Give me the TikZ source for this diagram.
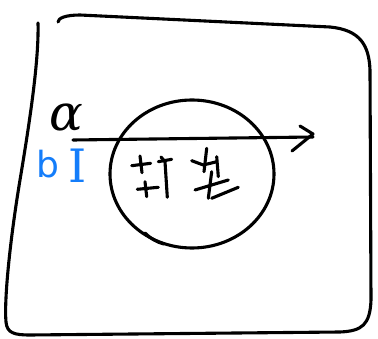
\documentclass[tikz,border=0pt]{standalone}
\usepackage{fontspec}
\setmainfont{DejaVu Sans}
\newfontfamily\serifink{DejaVu Serif}
\definecolor{inkblue}{RGB}{20,125,250}
\tikzset{
    stroke/.style={line width=3.1pt, line cap=round, line join=round},
    inklabel/.style={inner sep=0pt, anchor=center}
}
\begin{document}
\begin{tikzpicture}[x=1pt, y=-1pt]
    \useasboundingbox (0,0) rectangle (378,339);
    % frame
    \draw[stroke] (38,23) .. controls (39,60) and (30,120) .. (20,180)
        .. controls (10,240) and (4,300) .. (6,322)
        .. controls (7,333) and (14,335) .. (30,335)
        -- (340,332) .. controls (362,331) and (370,325) .. (371,300)
        -- (370,70) .. controls (369,45) and (360,30) .. (330,27)
        -- (80,15) .. controls (66,15) and (58,18) .. (58,22);
    % circle
    \draw[stroke] (192,174) ellipse [x radius=82, y radius=74];
    \draw[stroke] (145,233) .. controls (150,238) and (156,242) .. (164,244);
    % arrow
    \coordinate (arrowstart) at (73,140);
    \coordinate (arrowend) at (313,137);
    \draw[stroke] (arrowstart) -- (arrowend);
    \draw[stroke] (300,126) -- (313,134) -- (292,151);
    % labels
    \node[inklabel, font=\serifink\itshape\fontsize{50}{50}\selectfont] (alpha) at (66,117) {α};
    \node[inklabel, text=inkblue, font=\fontsize{36}{36}\selectfont] (blabel) at (48,164) {b};
    \node[inklabel, text=inkblue, font=\serifink\fontsize{46}{46}\selectfont] (Ilabel) at (78,166) {I};
    % scribbles inside the circle
    \draw[stroke] (131.7,165.7) -- (150.7,163.3);
    \draw[stroke] (140,156) -- (142,172.7);
    \draw[stroke] (158.3,161.7) -- (171.7,159.3);
    \draw[stroke] (161,157) -- (165,161.7) -- (167.3,197.3);
    \draw[stroke] (137.3,189.3) -- (158.3,187.3);
    \draw[stroke] (145,181.7) -- (146.7,196.7);
    \draw[stroke] (206.7,148.3) -- (204,171.7);
    \draw[stroke] (191.7,160.7) -- (203.3,165) -- (216.7,161.7);
    \draw[stroke] (216.7,156.7) -- (218.3,176.7);
    \draw[stroke] (195,190) -- (228.3,180);
    \draw[stroke] (211.7,171.7) -- (208.3,198.3);
    \draw[stroke] (211.7,198.3) -- (238.3,187.3);
\end{tikzpicture}
\end{document}
